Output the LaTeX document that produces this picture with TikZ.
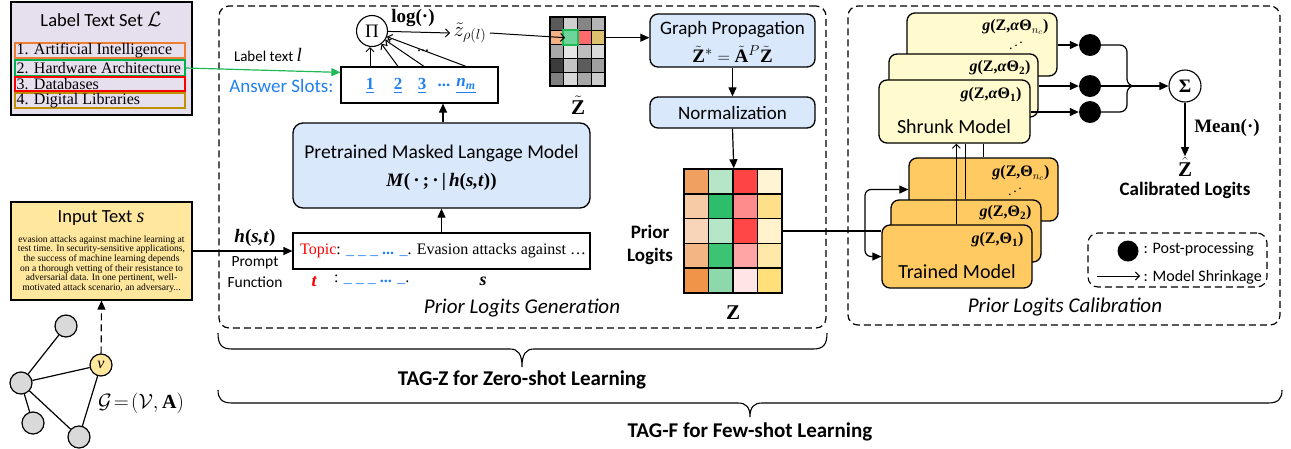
\documentclass[tikz,border=0pt]{standalone}
\usepackage{amsmath}
\usepackage{fontspec}
\setmainfont{Liberation Serif}
\setsansfont{Carlito}
\usetikzlibrary{arrows.meta,fit,calc}
\definecolor{lav}{HTML}{E6E0EE}
\definecolor{inp}{HTML}{FFE79E}
\definecolor{lblue}{HTML}{DAE8FC}
\definecolor{shk}{HTML}{FFFBCE}
\definecolor{trn}{HTML}{FFCA62}
\definecolor{gnd}{HTML}{D9D9D9}
\definecolor{ynd}{HTML}{FFE79E}
\definecolor{cOr}{HTML}{ED7D31}
\definecolor{cGr}{HTML}{00B050}
\definecolor{cRd}{HTML}{FF0000}
\definecolor{cGd}{HTML}{BF9000}
\definecolor{ablue}{HTML}{2080F0}
\definecolor{grn}{HTML}{1DB954}
% Z tilde colours
\definecolor{zt11}{HTML}{5A5A5A}\definecolor{zt12}{HTML}{D0D0D0}\definecolor{zt13}{HTML}{858585}\definecolor{zt14}{HTML}{B5B5B5}
\definecolor{zt21}{HTML}{F4B183}\definecolor{zt22}{HTML}{6FD49A}\definecolor{zt23}{HTML}{FF6B6B}\definecolor{zt24}{HTML}{DCC26E}
\definecolor{zt31}{HTML}{A8A8A8}\definecolor{zt32}{HTML}{E6E6E6}\definecolor{zt33}{HTML}{BDBDBD}\definecolor{zt34}{HTML}{DADADA}
\definecolor{zt41}{HTML}{3C3C3C}\definecolor{zt42}{HTML}{C4C4C4}\definecolor{zt43}{HTML}{5C5C5C}\definecolor{zt44}{HTML}{A0A0A0}
\definecolor{zt51}{HTML}{808080}\definecolor{zt52}{HTML}{D9D9D9}\definecolor{zt53}{HTML}{A6A6A6}\definecolor{zt54}{HTML}{CCCCCC}
% Z colours
\definecolor{z11}{HTML}{F0A060}\definecolor{z12}{HTML}{B5E6C8}\definecolor{z13}{HTML}{FF4444}\definecolor{z14}{HTML}{FFF5D5}
\definecolor{z21}{HTML}{F6CBA5}\definecolor{z22}{HTML}{2EBD6B}\definecolor{z23}{HTML}{FF8C8C}\definecolor{z24}{HTML}{FFE08A}
\definecolor{z31}{HTML}{F8D5B8}\definecolor{z32}{HTML}{B5E6C8}\definecolor{z33}{HTML}{FF4747}\definecolor{z34}{HTML}{FFF2CC}
\definecolor{z41}{HTML}{F3B583}\definecolor{z42}{HTML}{3CC474}\definecolor{z43}{HTML}{FFA5A5}\definecolor{z44}{HTML}{FFE8A8}
\definecolor{z51}{HTML}{EF9448}\definecolor{z52}{HTML}{8ED9AC}\definecolor{z53}{HTML}{FFE5E5}\definecolor{z54}{HTML}{FFDF7A}
\newcommand{\fsz}[2]{\fontsize{#1}{#2}\selectfont}
\newcommand{\gfn}[1]{\textbf{\textit{g}(Z,#1)}}
\tikzset{
  bx/.style={draw, line width=1.3pt, inner sep=0pt},
  rbx/.style={bx, rounded corners=8pt},
  dbox/.style={draw, line width=1.2pt, dash pattern=on 7pt off 4pt, rounded corners=10pt, inner sep=0pt},
  arr/.style={line width=1.2pt, -{Triangle[length=9pt,width=8pt]}},
  oarr/.style={line width=1.0pt, -{Straight Barb[length=4pt,width=8pt]}},
  ln/.style={line width=1.2pt},
  cell/.style={draw, line width=1.2pt, inner sep=0pt},
  gnode/.style={circle, draw, line width=1.2pt, fill=gnd, minimum size=22pt, inner sep=0pt},
  pdot/.style={circle, fill=black, minimum size=22pt, inner sep=0pt},
  sans/.style={font=\sffamily\fsz{#1}{#1}},
}
\begin{document}
\begin{tikzpicture}[x=1pt,y=-1pt]
\useasboundingbox (0,0) rectangle (1291,448);

% ---------- Label text set
\node[bx, fill=lav, line width=1.2pt, fit={(11,2)(192,115)}] (lset) {};
\node[sans=18.5] (lsett) at (101,19) {Label Text Set {\fsz{21}{21}$\mathcal{L}$}};
\node[bx, draw=cOr, line width=1.1pt, fit={(15,43)(185,58)}] (l1) {};
\node[bx, draw=cGr, line width=1.1pt, fit={(15,60)(185,76)}] (l2) {};
\node[bx, draw=cRd, line width=1.1pt, fit={(15,77)(185,91)}] (l3) {};
\node[bx, draw=cGd, line width=1.1pt, fit={(15,93)(185,108)}] (l4) {};
\node[anchor=west, font=\fsz{16}{16}, inner sep=0] (l1t) at ([xshift=2pt]l1.west) {1. Artificial Intelligence};
\node[anchor=west, font=\fsz{16}{16}, inner sep=0] (l2t) at ([xshift=2pt]l2.west) {2. Hardware Architecture};
\node[anchor=west, font=\fsz{16}{16}, inner sep=0] (l3t) at ([xshift=2pt]l3.west) {3. Databases};
\node[anchor=west, font=\fsz{16}{16}, inner sep=0] (l4t) at ([xshift=2pt]l4.west) {4. Digital Libraries};

% ---------- Input text
\node[bx, fill=inp, line width=1.2pt, fit={(11,202)(192,300)}] (input) {};
\node[sans=18.5] (inpt) at (101,218) {Input Text {\rmfamily\itshape\fsz{20}{20}s}};
\node[font=\fsz{9.6}{9.7}, align=center, inner sep=0] (inpb) at (101.5,264) {evasion attacks against machine learning at\\test time. In security-sensitive applications,\\the success of machine learning depends\\on a thorough vetting of their resistance to\\adversarial data. In one pertinent, well-\\motivated attack scenario, an adversary...};

% ---------- Graph
\node[gnode] (g1) at (66,326) {};
\node[gnode] (g2) at (21,383) {};
\node[gnode] (g3) at (33,423) {};
\node[gnode] (g4) at (79,437) {};
\node[gnode, fill=ynd, font=\fsz{16}{16}] (v) at (101,365) {\textit{v}};
\draw[ln] (g1) -- (g2);
\draw[ln] (g2) -- (v);
\draw[ln] (g2) -- (g3);
\draw[ln] (g2) -- (g4);
\draw[ln] (v) -- (g4);
\draw[arr, dash pattern=on 7pt off 4pt] (v) -- (input.south);
\node[font=\fsz{20}{20}] (glab) at (141,403) {$\mathcal{G}\!=\!(\mathcal{V},\mathbf{A})$};

% ---------- Dashed regions
\node[dbox, fit={(219,6)(826,328)}] (genbox) {};
\node[dbox, fit={(848,6)(1280,325)}] (calbox) {};
\node[font=\sffamily\itshape\fsz{21}{21}] (gent) at (522,308) {Prior Logits Generation};
\node[font=\sffamily\itshape\fsz{21}{21}] (calt) at (1065,307) {Prior Logits Calibration};

% ---------- Answer slots and product
\node[circle, draw, line width=1.1pt, minimum size=31pt, inner sep=0, fill=white, font=\fsz{19}{19}] (pi) at (372,31) {Π};
\node[bx, line width=1.2pt, fit={(341,67)(498,103)}] (slots) {};
\node[font=\bfseries\fsz{17}{17}, text=ablue] (s1) at (370,86) {\underline{1}};
\node[font=\bfseries\fsz{17}{17}, text=ablue] (s2) at (398,86) {\underline{2}};
\node[font=\bfseries\fsz{17}{17}, text=ablue] (s3) at (422,86) {\underline{3}};
\node[font=\bfseries\fsz{17}{17}, text=ablue] (sd) at (444,85) {...};
\node[font=\bfseries\fsz{17}{17}, text=ablue] (sn) at (466,86) {\underline{\textit{n}\textsubscript{\textit{m}}}};
\node[anchor=east, sans=19, text=ablue] (asl) at (337,86) {Answer Slots:};
\node[sans=15] (ltl) at (268,55) {Label text {\rmfamily\itshape\fsz{19}{19}l}};
\draw[oarr] (s1 |- slots.north) -- (s1 |- pi.south);
\draw[oarr] (s2 |- slots.north) -- (pi);
\draw[oarr] ([xshift=2pt]s3.north |- slots.north) -- (pi);
\draw[oarr] (sn |- slots.north) -- (pi);
\node[font=\fsz{16}{16}] (adots) at (423,51) {...};
\draw[arr, draw=grn] (l2.east) -- ($(slots.north west)+(0,6)$);
\node[font=\fsz{20}{20}] (ztl) at (470,33) {$\tilde{z}_{\rho(l)}$};
\draw[oarr] (pi) -- (ztl.west);
\node[font=\bfseries\fsz{19}{19}] (logl) at (413,18) {log(·)};

% ---------- PMLM and prompt
\node[rbx, fill=lblue, rounded corners=10pt, fit={(293,123)(590,208)}] (pmlm) {};
\node[sans=19.5] (pmlmt) at (441.5,153) {Pretrained Masked Langage Model};
\node[font=\bfseries\fsz{19}{19}] (pmlmf) at (441.5,182) {\textit{M}(\,·\,;\,·\,|\,\textit{h}(\textit{s,t}))};
\node[bx, line width=1.2pt, fit={(293,233)(590,269)}] (prompt) {};
\node[anchor=west, font=\fsz{16}{16}, inner sep=0] (ptext) at (300,251) {\textcolor{red}{Topic}: \textcolor{ablue}{\_ \_ \_ \textbf{...} \_}. Evasion attacks against …};
\node[font=\bfseries\itshape\fsz{18}{18}, text=red] (tl) at (314,282) {t};
\node[anchor=west, font=\fsz{16}{16}, inner sep=0] (tblank) at (334,280) {: \textcolor{ablue}{\_ \_ \_ \textbf{...} \_}.};
\node[font=\bfseries\itshape\fsz{18}{18}] (sl) at (483,281) {s};
\draw[arr] (input.east) -- (prompt.west);
\node[font=\bfseries\fsz{19}{19}] (hst) at (255,238) {\textit{h}(\textit{s,t})};
\node[sans=15.5] (pf1) at (255,263) {Prompt};
\node[sans=15.5] (pf2) at (255,282) {Function};
\draw[arr] (prompt.north) -- (pmlm.south);
\draw[arr] ([xshift=1.5pt]pmlm.north) -- ([xshift=1.5pt]pmlm.north |- slots.south);

% ---------- Z tilde matrix
\foreach \r in {1,...,5}{\foreach \c in {1,...,4}{
  \node[cell, fill=zt\r\c, minimum width=13.75pt, minimum height=13.8pt] (zt-\r-\c) at ({550+(\c-0.5)*13.75},{17+(\r-0.5)*13.8}) {};
}}
\draw[draw=grn, line width=2pt] (zt-2-2.north west) rectangle (zt-2-2.south east);
\node[font=\fsz{21}{21}] (ztlab) at (578,105) {$\tilde{\mathbf{Z}}$};
\draw[oarr] (ztl.east) -- ([xshift=2pt]zt-2-2.west);

% ---------- Graph propagation & normalization
\node[rbx, fill=lblue, fit={(650,14)(815,67)}] (gp) {};
\node[sans=19] (gpt) at (732.5,30) {Graph Propagation};
\node[font=\fsz{19}{19}, inner sep=0] (gpf) at (732.5,54) {$\tilde{\mathbf{Z}}^{*}=\tilde{\mathbf{A}}^{P}\tilde{\mathbf{Z}}$};
\node[rbx, fill=lblue, fit={(650,97)(815,128)}] (norm) {};
\node[sans=19] (normt) at (732.5,112.5) {Normalization};
\draw[arr] (zt-2-4.east) -- (zt-2-4.east -| gp.west);
\draw[arr] (gp.south) -- (norm.north);

% ---------- Z matrix
\foreach \r in {1,...,5}{\foreach \c in {1,...,4}{
  \node[cell, line width=1.5pt, fill=z\r\c, minimum width=24.5pt, minimum height=24.8pt] (z-\r-\c) at ({684+(\c-0.5)*24.5},{169+(\r-0.5)*24.8}) {};
}}
\draw[arr] (norm.south) -- (z-1-2.north east);
\node[font=\fsz{21}{21}] (zlab) at (733,313) {$\mathbf{Z}$};
\node[font=\sffamily\bfseries\fsz{19}{23}, align=center] (pl) at (650,245) {Prior\\Logits};

% ---------- Trained models
\node[rbx, fill=trn, fit={(909,158)(1058,221)}] (trN) {};
\node[rbx, fill=trn, fit={(891,200)(1041,262)}] (tr2) {};
\node[rbx, fill=trn, fit={(882,225)(1032,288)}] (tr1) {};
\node[anchor=east, font=\fsz{16}{16}] (trNt) at (1053,173) {\gfn{Θ$_{n_c}$}};
\node[font=\fsz{14}{14}] (trNd) at (1015,189) {\reflectbox{$\ddots$}};
\node[anchor=east, font=\fsz{16}{16}] (tr2t) at (1035,213) {\gfn{Θ\textsubscript{2}}};
\node[anchor=east, font=\fsz{16}{16}] (tr1t) at (1027,240) {\gfn{Θ\textsubscript{1}}};
\node[sans=20] (tr1l) at (957,272) {Trained Model};

% ---------- Shrunk models
\node[rbx, fill=shk, fit={(907,13)(1057,76)}] (shN) {};
\node[rbx, fill=shk, fit={(889,54)(1038,117)}] (sh2) {};
\node[rbx, fill=shk, fit={(879,80)(1030,143)}] (sh1) {};
\node[anchor=east, font=\fsz{16}{16}] (shNt) at (1052,27) {\gfn{\textit{α}Θ$_{n_c}$}};
\node[font=\fsz{14}{14}] (shNd) at (1016,43) {\reflectbox{$\ddots$}};
\node[anchor=east, font=\fsz{16}{16}] (sh2t) at (1034,68) {\gfn{\textit{α}Θ\textsubscript{2}}};
\node[anchor=east, font=\fsz{16}{16}] (sh1t) at (1025,95) {\gfn{\textit{α}Θ\textsubscript{1}}};
\node[sans=20] (sh1l) at (954,127) {Shrunk Model};

% ---------- Z to trained models
\coordinate (br) at (865,231);
\draw[ln] (z-3-4.east) -- (br -| tr1.west);
\draw[arr, rounded corners=6pt] (br) |- (trN.west);
\draw[arr, rounded corners=6pt] (br) |- (tr1.west);

% ---------- Shrinkage lines
\coordinate (k1) at ($(tr1.north west)+(75,0)$);
\coordinate (k2) at ($(tr2.north west)+(75,0)$);
\coordinate (k3) at ($(trN.north west)+(75,0)$);
\draw[oarr] (k1) -- (k1 |- sh1.south);
\draw[ln, line width=1.0pt] (k2) -- (k2 |- sh1.south);
\draw[ln, line width=1.0pt] (k3) -- (k3 |- sh1.south);

% ---------- Post-processing and sum
\node[pdot] (p1) at (1090,45) {};
\node[pdot] (p2) at (1090,86) {};
\node[pdot] (p3) at (1090,112) {};
\draw[arr] (shN.east |- p1) -- (p1);
\draw[arr] (sh2.east |- p2) -- (p2);
\draw[arr] (sh1.east |- p3) -- (p3);
\node[circle, draw, line width=1.1pt, minimum size=32pt, inner sep=0, fill=white, font=\bfseries\fsz{19}{19}] (sig) at (1185,86) {Σ};
\coordinate (mg) at (1142,86);
\draw[ln, rounded corners=7pt] (p1.east) -- (1127,45) -- (1127,86) -- (mg);
\draw[ln, rounded corners=7pt] (p3.east) -- (1127,112) -- (1127,86) -- (mg);
\draw[arr] (p2.east) -- (sig.west);
\node[font=\fsz{21}{21}, inner sep=1pt] (zhat) at (1185,167) {$\hat{\mathbf{Z}}$};
\draw[arr] (sig.south) -- (zhat.north);
\node[font=\bfseries\fsz{19}{19}] (meanl) at (1227,128) {Mean(·)};
\node[font=\sffamily\bfseries\fsz{19}{19}] (calg) at (1185,190) {Calibrated Logits};

% ---------- Legend
\node[dbox, line width=1.1pt, fit={(1088,233)(1267,287)}] (legend) {};
\node[pdot, minimum size=21pt] (ldot) at (1128,251) {};
\node[anchor=west, sans=16] (lpp) at (1140,249) {: Post-processing};
\coordinate (la1) at (1097,276);
\coordinate (la2) at (1140,276);
\draw[oarr] (la1) -- (la2);
\node[anchor=west, sans=16] (lms) at (1140,277) {: Model Shrinkage};

% ---------- Braces
\draw[ln, line width=1.1pt] (218,333) .. controls (218,345) and (222,349) .. (232,349) -- (510,349) .. controls (518,349) and (522,354) .. (522,367) .. controls (522,354) and (526,349) .. (534,349) -- (813,349) .. controls (823,349) and (827,345) .. (827,333);
\node[font=\sffamily\bfseries\fsz{21}{21}] (tagz) at (522,380) {TAG-Z for Zero-shot Learning};
\draw[ln, line width=1.1pt] (218,390) .. controls (218,399) and (222,403) .. (232,403) -- (738,403) .. controls (746,403) and (750,407) .. (750,417) .. controls (750,407) and (754,403) .. (762,403) -- (1268,403) .. controls (1278,403) and (1282,399) .. (1282,390);
\node[font=\sffamily\bfseries\fsz{21}{21}] (tagf) at (750,432) {TAG-F for Few-shot Learning};
\end{tikzpicture}
\end{document}
